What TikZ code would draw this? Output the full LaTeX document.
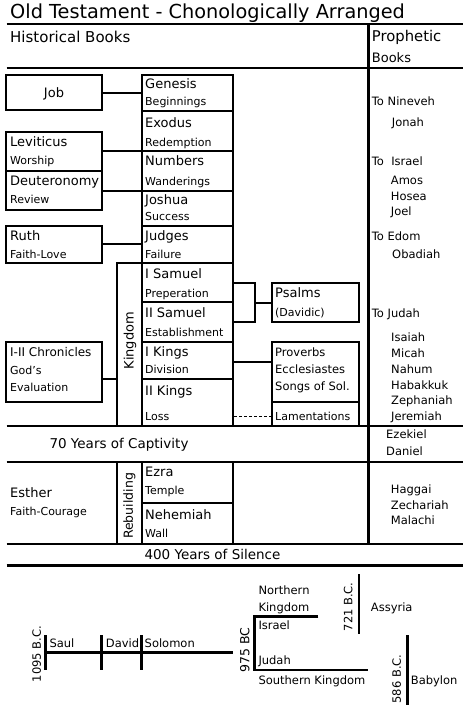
\documentclass[tikz,border=0pt]{standalone}
\usepackage{fontspec}
\setmainfont{DejaVu Sans}
\usetikzlibrary{calc}
\tikzset{
 bx/.style={draw, line width=2pt, inner sep=0pt, outer sep=0pt, anchor=north west},
 ln/.style={line width=2pt},
 tk/.style={line width=3pt},
 tkb/.style={line width=3.5pt},
 tl/.style={line width=2.5pt},
 dl/.style={line width=1pt, dash pattern=on 3pt off 2pt},
 tx/.style={anchor=base west, inner sep=0pt, font=\fontsize{#1}{#1}\selectfont, yshift={-0.37*#1pt}},
 txc/.style={anchor=base, inner sep=0pt, font=\fontsize{#1}{#1}\selectfont, yshift={-0.37*#1pt}},
 rt/.style={rotate=90, inner sep=0pt, font=\fontsize{#1}{#1}\selectfont},
}
\newcommand\BX[5]{\node[bx, minimum width=#4pt, minimum height=#5pt] (#1) at (#2,#3) {};}
\begin{document}
\begin{tikzpicture}[x=1pt,y=-1pt]
\useasboundingbox (0,0) rectangle (474,711);
% header
\node[tx=19.3] (title) at (10,11.3) {Old Testament - Chonologically Arranged};
\draw[ln] (6.7,24) -- (463,24);
\node[tx=15] (hist) at (10,37.3) {Historical Books};
\node[tx=14.8] (proph1) at (371.7,36) {Prophetic};
\node[tx=13] (proph2) at (371.7,57.3) {Books};
\draw[ln] (6.7,67.7) -- (463,67.7);
% main column
\BX{gen}{142}{75}{91}{35.7}
\BX{exo}{142}{110.7}{91}{40.3}
\BX{num}{142}{151}{91}{40}
\BX{jos}{142}{191}{91}{35}
\BX{jud}{142}{226}{91}{37}
\BX{isam}{142}{263}{91}{39}
\BX{iisam}{142}{302}{91}{40}
\BX{ik}{142}{342}{91}{37}
\BX{iik}{142}{379}{91}{46.5}
\BX{kg}{117}{263}{25}{162.5}
% left boxes
\BX{job}{6}{75}{96}{35.5}
\BX{lev}{6}{131.7}{96}{39.3}
\BX{deu}{6}{171}{96}{39}
\BX{ruth}{6}{225.7}{96}{37.3}
\BX{chr}{6}{341.7}{96}{60}
% right boxes
\BX{ps}{271.5}{283}{87}{39}
\BX{pv}{271.5}{341.7}{87}{60}
\BX{lam}{271.5}{401.7}{87}{23.8}
% connectors
\draw[ln] (job.east) -- (job.east -| gen.west);
\draw[ln] (exo.south west) -- (exo.south west -| lev.east);
\draw[ln] (num.south west) -- (num.south west -| deu.east);
\draw[ln] (ruth.east) -- (ruth.east -| jud.west);
\draw[ln] (ik.south -| kg.west) -- (ik.south -| chr.east);
\coordinate (br) at (255,302.5);
\draw[ln] (isam.east |- ps.north) -| (br) |- (isam.east |- ps.south);
\draw[ln] (br) -- (br -| ps.west);
\draw[ln] ([yshift=10pt]pv.west) -- ([yshift=10pt]pv.west -| ik.east);
\draw[dl] ([yshift=-3pt]lam.west) -- ([yshift=-3pt]lam.west -| iik.east);
% texts main column
\node[tx=13] (tgen) at (145,83.3) {Genesis};
\node[tx=11] (sgen) at (145,101) {Beginnings};
\node[tx=13] (texo) at (145,122.3) {Exodus};
\node[tx=11] (sexo) at (145,142.3) {Redemption};
\node[tx=13] (tnum) at (145,161) {Numbers};
\node[tx=11] (snum) at (145,181) {Wanderings};
\node[tx=13] (tjos) at (145,200) {Joshua};
\node[tx=11] (sjos) at (145,216.7) {Success};
\node[tx=13] (tjud) at (145,235.7) {Judges};
\node[tx=11] (sjud) at (145,254) {Failure};
\node[tx=13] (tisam) at (145,273.3) {I Samuel};
\node[tx=11] (sisam) at (145,293.3) {Preperation};
\node[tx=13] (tiisam) at (145,312.7) {II Samuel};
\node[tx=11] (siisam) at (145,332.3) {Establishment};
\node[tx=13] (tik) at (145,351.7) {I Kings};
\node[tx=11] (sik) at (145,369.3) {Division};
\node[tx=13] (tiik) at (145,391) {II Kings};
\node[tx=11] (siik) at (145,416) {Loss};
\node[rt=13] (tkg) at (130,340.7) {Kingdom};
% left texts
\node[txc=13] (tjob) at (54,92.7) {Job};
\node[tx=13] (tlev) at (10,141.7) {Leviticus};
\node[tx=11] (slev) at (10,160) {Worship};
\node[tx=13] (tdeu) at (10,180.7) {Deuteronomy};
\node[tx=11] (sdeu) at (10,199) {Review};
\node[tx=13] (truth) at (10,235.7) {Ruth};
\node[tx=11] (sruth) at (10,254) {Faith-Love};
\node[tx=12] (tchr) at (10,352.3) {I-II Chronicles};
\node[tx=11] (schr1) at (10,370) {God's};
\node[tx=11] (schr2) at (10,387.7) {Evaluation};
% right texts
\node[tx=13] (tps) at (275,292.3) {Psalms};
\node[tx=11] (sps) at (275,312.7) {(Davidic)};
\node[tx=11.5] (tpv1) at (275,352.3) {Proverbs};
\node[tx=11.5] (tpv2) at (275,369.3) {Ecclesiastes};
\node[tx=11.5] (tpv3) at (275,386.7) {Songs of Sol.};
\node[tx=11] (tlam) at (275,416.7) {Lamentations};
% prophetic
\node[tx=11.5] (p1) at (371.7,101.7) {To Nineveh};
\node[tx=11.5] (p2) at (391.7,122) {Jonah};
\node[tx=11.5] (p3) at (371.7,161.7) {To\ \ Israel};
\node[tx=11.5] (p4) at (390.7,180) {Amos};
\node[tx=11.5] (p5) at (390.7,196) {Hosea};
\node[tx=11.5] (p6) at (390.7,211.7) {Joel};
\node[tx=11.5] (p7) at (371.7,236.7) {To Edom};
\node[tx=11.5] (p8) at (392,254) {Obadiah};
\node[tx=11.5] (p9) at (371.7,313) {To Judah};
\node[tx=11.5] (p10) at (391,337.7) {Isaiah};
\node[tx=11.5] (p11) at (391,353) {Micah};
\node[tx=11.5] (p12) at (391,369) {Nahum};
\node[tx=11.5] (p13) at (391,385) {Habakkuk};
\node[tx=11.5] (p14) at (391,400) {Zephaniah};
\node[tx=11.5] (p15) at (391,416) {Jeremiah};
\node[tx=11.5] (p16) at (386,434) {Ezekiel};
\node[tx=11.5] (p17) at (386,451.7) {Daniel};
\node[tx=11.5] (p18) at (390.7,489) {Haggai};
\node[tx=11.5] (p19) at (390.7,505) {Zechariah};
\node[tx=11.5] (p20) at (390.7,520.7) {Malachi};
% bands
\draw[ln] (6.7,425.7) -- (463,425.7);
\node[tx=13.5] (capt) at (49.3,443.3) {70 Years of Captivity};
\draw[ln] (6.7,461.7) -- (463,461.7);
\BX{rb}{117}{461.7}{25}{82.5}
\BX{ezra}{142}{461.7}{91}{41}
\BX{neh}{142}{502.7}{91}{41.5}
\node[tx=13] (test) at (10,492.7) {Esther};
\node[tx=11] (sest) at (10,511) {Faith-Courage};
\node[rt=12.5] (trb) at (129.3,506) {Rebuilding};
\node[tx=13] (tezra) at (145,471.7) {Ezra};
\node[tx=11] (sezra) at (145,490) {Temple};
\node[tx=13] (tneh) at (145,514.3) {Nehemiah};
\node[tx=11] (sneh) at (145,533.3) {Wall};
\draw[ln] (6.7,544.2) -- (463,544.2);
\node[tx=13.5] (sil) at (144.3,554) {400 Years of Silence};
\draw[tkb] (6.7,565.7) -- (463,565.7);
\draw[tk] (368,24) -- (368,544.2);
% timeline
\draw[tl] (45.7,652.3) -- (233.3,652.3);
\draw[tl] (45.7,635) -- (45.7,670);
\draw[tl] (101.7,635) -- (101.7,670);
\draw[tl] (141.7,635) -- (141.7,670);
\node[rt=11.5] (d1) at (36.7,654) {1095 B.C.};
\node[tx=11.5] (saul) at (49.3,643.3) {Saul};
\node[tx=11.5] (david) at (105.7,643.3) {David};
\node[tx=11.5] (solo) at (144.5,643.3) {Solomon};
\node[rt=12.5] (d2) at (244.7,650) {975 BC};
\draw[tl] (318.3,616.7) -- (254.3,616.7) -- (254.3,670) -- (367.7,670);
\node[tx=11.5] (nk1) at (258.3,590) {Northern};
\node[tx=11.5] (nk2) at (258.3,607.7) {Kingdom};
\node[tx=11.5] (isr) at (258.3,625) {Israel};
\node[tx=11.5] (jdh) at (258.3,660) {Judah};
\node[tx=11.5] (sk) at (258.3,680) {Southern Kingdom};
\node[rt=11.5] (d3) at (348.3,606.8) {721 B.C.};
\draw[tl] (359,574) -- (359,634);
\node[tx=11.5] (ass) at (370.7,607.7) {Assyria};
\node[rt=11.5] (d4) at (396.7,679) {586 B.C.};
\draw[tl] (407.7,635) -- (407.7,705);
\node[tx=11.5] (bab) at (410.7,680) {Babylon};
\end{tikzpicture}
\end{document}
